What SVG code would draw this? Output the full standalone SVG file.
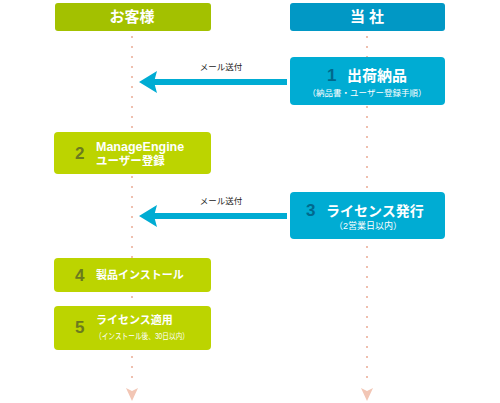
<svg xmlns="http://www.w3.org/2000/svg" width="500" height="403" viewBox="0 0 500 403">
<defs>
<style>
text{font-family:"Liberation Sans","Noto Sans CJK JP",sans-serif;}
.hd{font-size:15px;font-weight:bold;fill:#fff;text-anchor:middle;}
.ttl{font-size:14px;font-weight:bold;fill:#fff;}
.ttl2{font-size:11px;font-weight:bold;fill:#fff;}
.sub{font-size:8.5px;fill:#fff;}
.numg{font-size:17px;font-weight:bold;fill:#6b7a1e;}
.numb{font-size:17px;font-weight:bold;fill:#00698d;}
.lbl{font-size:8.5px;fill:#222;text-anchor:middle;}
.dot{fill:#f2c6b5;}
.dline{stroke:#efbfae;stroke-width:2;stroke-dasharray:2 8;fill:none;}
.gbox{fill:#bcd400;}
.bbox{fill:#00acd3;}
.arr{fill:#00acd3;}
</style>
</defs>
<g id="connectors">
<line class="dline" x1="132" y1="36" x2="132" y2="380"/>
<line class="dline" x1="367" y1="36" x2="367" y2="380"/>
<polygon class="dot" points="126,388 132,391 138,388 132,401"/>
<polygon class="dot" points="361,388 367,391 373,388 367,401"/>
<g id="mail1">
<rect class="arr" x="152" y="79" width="135" height="6"/>
<polygon class="arr" points="139,82 157,71 154,82 157,93"/>
<text class="lbl" x="221" y="70">メール送付</text>
</g>
<g id="mail2">
<rect class="arr" x="152" y="213" width="135" height="6"/>
<polygon class="arr" points="139,216 157,205 154,216 157,227"/>
<text class="lbl" x="221" y="204">メール送付</text>
</g>
</g>
<g id="header-customer">
<rect x="55" y="3" width="156" height="28" rx="3" fill="#a3c100"/>
<text class="hd" x="132" y="22">お客様</text>
</g>
<g id="header-company">
<rect x="290" y="3" width="155" height="28" rx="3" fill="#0198c5"/>
<text class="hd" x="367" y="22">当 社</text>
</g>
<g id="step1">
<rect class="bbox" x="290" y="57" width="155" height="48" rx="4"/>
<text class="numb" x="327" y="81">1</text>
<text class="ttl" x="347" y="81" style="font-size:15px">出荷納品</text>
<text class="sub" x="367" y="96" text-anchor="middle">（納品書・ユーザー登録手順）</text>
</g>
<g id="step2">
<rect class="gbox" x="54" y="132" width="157" height="42" rx="4"/>
<text class="numg" x="75" y="159">2</text>
<text class="ttl2" x="96" y="151" style="font-size:12.5px">ManageEngine</text>
<text class="ttl2" x="96" y="165" style="font-size:11.5px">ユーザー登録</text>
</g>
<g id="step3">
<rect class="bbox" x="290" y="192" width="155" height="47" rx="4"/>
<text class="numb" x="306" y="216">3</text>
<text class="ttl" x="326" y="216">ライセンス発行</text>
<text class="sub" x="368" y="229" text-anchor="middle" style="font-size:9px">（2営業日以内）</text>
</g>
<g id="step4">
<rect class="gbox" x="54" y="258" width="157" height="34" rx="4"/>
<text class="numg" x="75" y="281">4</text>
<text class="ttl2" x="96" y="279">製品インストール</text>
</g>
<g id="step5">
<rect class="gbox" x="54" y="306" width="157" height="44" rx="4"/>
<text class="numg" x="75" y="333">5</text>
<text class="ttl2" x="96" y="324">ライセンス適用</text>
<text class="sub" x="95" y="339" textLength="94" lengthAdjust="spacingAndGlyphs">（インストール後、30日以内）</text>
</g>
</svg>
